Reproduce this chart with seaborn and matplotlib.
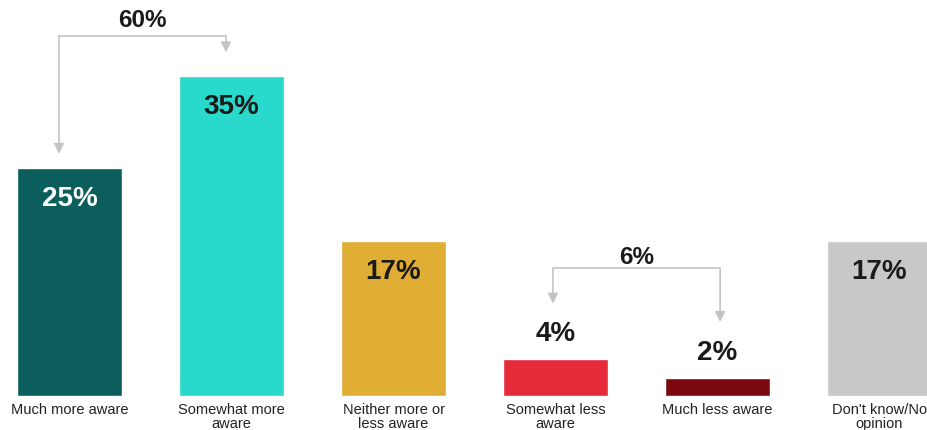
import matplotlib
matplotlib.use("Agg")
import matplotlib.pyplot as plt
import seaborn as sns
import pandas as pd

categories = ["Much more aware", "Somewhat more\naware", "Neither more or\nless aware",
              "Somewhat less\naware", "Much less aware", "Don't know/No\nopinion"]
values = [25, 35, 17, 4, 2, 17]
colors = ["#0b5e5c", "#29d9cb", "#e0ae34", "#e52b39", "#7b0710", "#c8c8c8"]
label_colors = ["white", "#1a1a1a", "#1a1a1a", "#1a1a1a", "#1a1a1a", "#1a1a1a"]
inside = [True, True, True, False, False, True]
group_labels = ["60%", "6%"]

sns.set_theme(style="white")
plt.rcParams["font.family"] = ["Liberation Sans", "DejaVu Sans"]

df = pd.DataFrame({"cat": categories, "val": values})

fig = plt.figure(figsize=(9.28, 4.31), dpi=100)
ax = fig.add_axes([0, 34 / 431, 1, 397 / 431])
sns.barplot(data=df, x="cat", y="val", hue="cat", palette=colors, width=0.648,
            legend=False, ax=ax, saturation=1)

ax.set_xlim(-0.429, 5.299)
ax.set_ylim(0, 397 / 9.14)
for s in ax.spines.values():
    s.set_visible(False)
ax.set_xlabel("")
ax.set_ylabel("")
ax.set_yticks([])
ax.tick_params(axis="x", length=0, pad=4)
for t in ax.get_xticklabels():
    t.set_fontsize(10.5)
    t.set_color("#222222")
    t.set_linespacing(1.0)
    t.set_verticalalignment("top")

for i, v in enumerate(values):
    if inside[i]:
        off = -21.6
    else:
        off = 18.7
    ax.annotate(f"{v}%", xy=(i, v), xytext=(0, off), textcoords="offset points",
                ha="center", va="center", fontsize=20, fontweight="bold",
                color=label_colors[i])

gray = "#c4c4c4"

def bracket(x1, x2, yh, y1, y2, label, ylab):
    ax.plot([x1, x1, x2, x2], [yh - 0.01, yh, yh, yh - 0.01], color=gray, lw=1.2,
            solid_capstyle="butt")
    for x, yt in ((x1, y1), (x2, y2)):
        ax.annotate("", xy=(x, yt), xytext=(x, yh),
                    arrowprops=dict(arrowstyle="-|>,head_length=0.5,head_width=0.25",
                                    color=gray, lw=1.2, shrinkA=0, shrinkB=0))
    ax.text((x1 + x2) / 2, ylab, label, ha="center", va="center", fontsize=17.5,
            fontweight="bold", color="#1a1a1a")

bracket(0 - 0.065, 1 - 0.034, 39.4, 26.5, 37.6, group_labels[0], 41.2)
bracket(3 - 0.016, 4 + 0.016, 14.0, 10.1, 8.1, group_labels[1], 15.3)

fig.savefig("out.png", dpi=100)
